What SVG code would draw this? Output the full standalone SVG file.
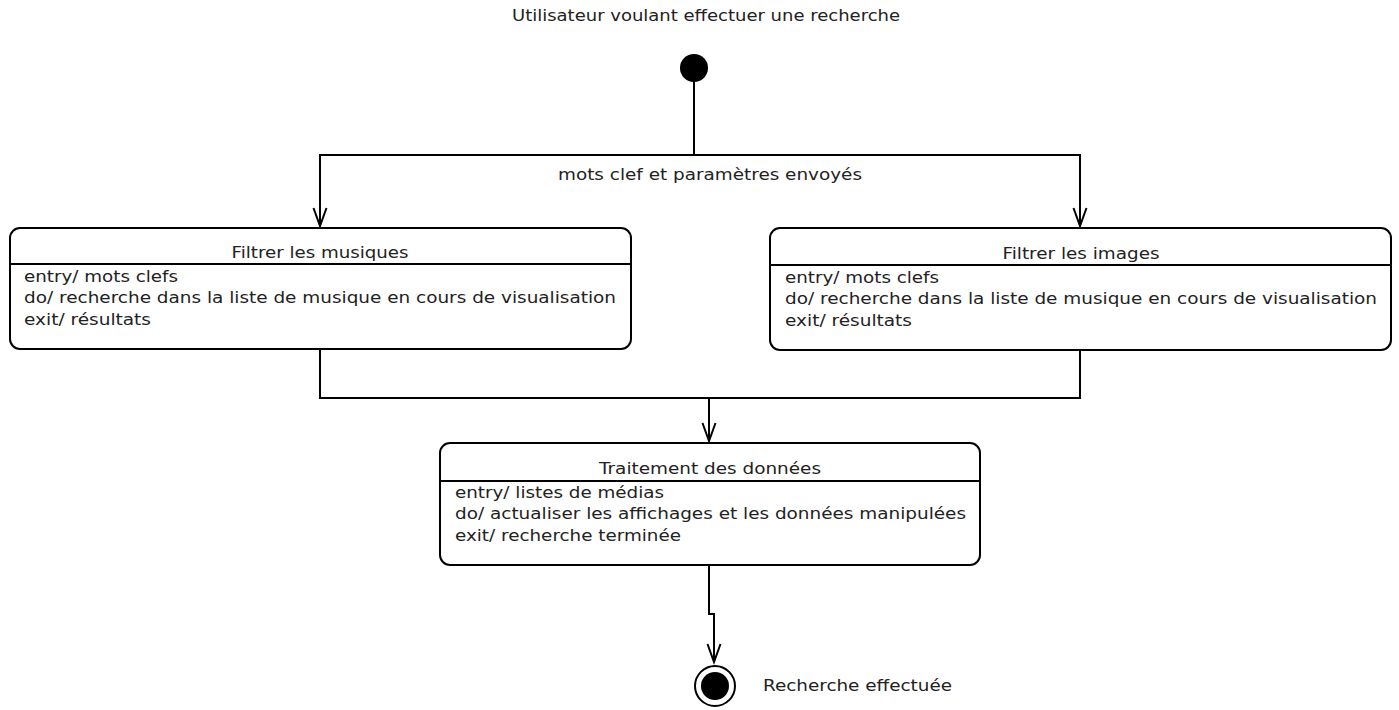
<svg xmlns="http://www.w3.org/2000/svg" width="1399" height="710" viewBox="0 0 1399 710">
  <style>
    text { font-family: "DejaVu Sans", sans-serif; font-size: 16px; fill: #222; }
    .mid { text-anchor: middle; }
    .box { fill: #fff; stroke: #000; stroke-width: 2; }
    .sep { stroke: #000; stroke-width: 2; }
    .edge { fill: none; stroke: #000; stroke-width: 2; }
  </style>
  <defs>
    <!-- open V arrowhead, drawn pointing along +x -->
    <marker id="arrow" markerWidth="22" markerHeight="16" refX="19" refY="8" orient="auto" markerUnits="userSpaceOnUse" viewBox="0 0 22 16" overflow="visible">
      <path d="M1,1.5 L19,8 L1,14.5" fill="none" stroke="#000" stroke-width="2"/>
    </marker>
  </defs>

  <text class="mid" x="706" y="21" textLength="388" lengthAdjust="spacingAndGlyphs">Utilisateur voulant effectuer une recherche</text>

  <g id="connectors">
    <path class="edge" d="M694,80 V155 H320 V226" marker-end="url(#arrow)"/>
    <path class="edge" d="M694,155 H1080 V226" marker-end="url(#arrow)"/>
    <text class="mid" x="710" y="180" textLength="304" lengthAdjust="spacingAndGlyphs">mots clef et paramètres envoyés</text>
    <path class="edge" d="M320,349 V398 H1080 V350"/>
    <path class="edge" d="M709,398 V441" marker-end="url(#arrow)"/>
    <path class="edge" d="M709,565 V614 H714 V662" marker-end="url(#arrow)"/>
  </g>

  <g id="start">
    <circle cx="694" cy="68" r="14" fill="#000"/>
  </g>

  <g id="filtrer-musiques">
    <rect class="box" x="10" y="228" width="621" height="121" rx="10"/>
    <line class="sep" x1="10" y1="264" x2="631" y2="264"/>
    <text class="mid" x="320" y="258" textLength="177" lengthAdjust="spacingAndGlyphs">Filtrer les musiques</text>
    <text x="24" y="282" textLength="154" lengthAdjust="spacingAndGlyphs">entry/ mots clefs</text>
    <text x="24" y="303" textLength="592" lengthAdjust="spacingAndGlyphs">do/ recherche dans la liste de musique en cours de visualisation</text>
    <text x="24" y="325" textLength="127" lengthAdjust="spacingAndGlyphs">exit/ résultats</text>
  </g>

  <g id="filtrer-images">
    <rect class="box" x="770" y="228" width="621" height="122" rx="10"/>
    <line class="sep" x1="770" y1="265" x2="1391" y2="265"/>
    <text class="mid" x="1081" y="259" textLength="157" lengthAdjust="spacingAndGlyphs">Filtrer les images</text>
    <text x="785" y="283" textLength="154" lengthAdjust="spacingAndGlyphs">entry/ mots clefs</text>
    <text x="785" y="304" textLength="592" lengthAdjust="spacingAndGlyphs">do/ recherche dans la liste de musique en cours de visualisation</text>
    <text x="785" y="326" textLength="127" lengthAdjust="spacingAndGlyphs">exit/ résultats</text>
  </g>

  <g id="traitement">
    <rect class="box" x="440" y="443" width="540" height="122" rx="10"/>
    <line class="sep" x1="440" y1="481" x2="980" y2="481"/>
    <text class="mid" x="710" y="474" textLength="222" lengthAdjust="spacingAndGlyphs">Traitement des données</text>
    <text x="455" y="498" textLength="209" lengthAdjust="spacingAndGlyphs">entry/ listes de médias</text>
    <text x="455" y="519" textLength="511" lengthAdjust="spacingAndGlyphs">do/ actualiser les affichages et les données manipulées</text>
    <text x="455" y="541" textLength="226" lengthAdjust="spacingAndGlyphs">exit/ recherche terminée</text>
  </g>

  <g id="end">
    <circle cx="715" cy="686" r="20" fill="#fff" stroke="#000" stroke-width="2"/>
    <circle cx="715" cy="686" r="14" fill="#000"/>
    <text x="763" y="691" textLength="189" lengthAdjust="spacingAndGlyphs">Recherche effectuée</text>
  </g>
</svg>
